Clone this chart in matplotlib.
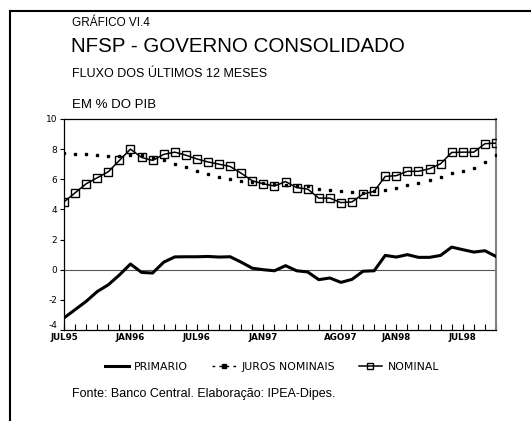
import matplotlib
matplotlib.use("Agg")
import matplotlib.pyplot as plt
from matplotlib.lines import Line2D
import numpy as np

# Monthly data JUL95 .. OCT98 (40 months), % do PIB
primario = [-3.2, -2.65, -2.1, -1.45, -1.0, -0.35, 0.38, -0.18, -0.22, 0.5,
            0.85, 0.86, 0.86, 0.88, 0.84, 0.86, 0.5, 0.1, 0.0, -0.07,
            0.27, -0.07, -0.15, -0.66, -0.55, -0.84, -0.64, -0.1, -0.07, 0.95,
            0.84, 1.0, 0.82, 0.82, 0.95, 1.5, 1.33, 1.17, 1.26, 0.88]
juros = [7.74, 7.7, 7.67, 7.59, 7.52, 7.56, 7.6, 7.63, 7.41, 7.25,
         7.01, 6.81, 6.52, 6.37, 6.15, 6.02, 5.86, 5.8, 5.74, 5.68,
         5.64, 5.57, 5.53, 5.35, 5.31, 5.24, 5.15, 5.1, 5.2, 5.31,
         5.42, 5.64, 5.75, 5.97, 6.13, 6.42, 6.53, 6.75, 7.14, 7.63]
nominal = [4.5, 5.1, 5.7, 6.1, 6.5, 7.25, 8.0, 7.45, 7.25, 7.65,
           7.8, 7.6, 7.35, 7.15, 7.0, 6.85, 6.4, 5.9, 5.7, 5.55,
           5.85, 5.45, 5.35, 4.75, 4.75, 4.45, 4.5, 5.02, 5.2, 6.19,
           6.24, 6.53, 6.53, 6.7, 7.03, 7.78, 7.8, 7.8, 8.36, 8.4]
tick_pos = [0, 6, 12, 18, 25, 30, 36]
tick_labels = ["JUL95", "JAN96", "JUL96", "JAN97", "AGO97", "JAN98", "JUL98"]
y_ticks = [-4, -2, 0, 2, 4, 6, 8, 10]

W, H = 531, 421
fig = plt.figure(figsize=(W / 100, H / 100), dpi=100)
ax = fig.add_axes([64 / W, 1 - 330 / H, (496 - 64) / W, (330 - 119) / H])

x = np.arange(len(nominal))
ax.axhline(0, color="#555555", lw=0.8, zorder=1)
ax.plot(x, primario, color="black", lw=2.2, solid_joinstyle="round", zorder=3)
ax.plot(x, juros, linestyle="none", marker="s", ms=2.0, color="black", zorder=3)
ax.plot(x, nominal, color="black", lw=1.1, marker="s", ms=5.2, mfc="none",
        mec="black", mew=1.0, zorder=4)

ax.set_xlim(0, len(nominal) - 1)
ax.set_ylim(-4, 10)
ax.set_yticks(y_ticks)
ax.set_yticklabels([str(v) if v != -4 else "" for v in y_ticks])
ax.set_xticks(tick_pos)
ax.set_xticklabels(tick_labels)
ax.set_xticks(x, minor=True)
ax.tick_params(axis="x", which="both", direction="in", length=4, width=0.8,
               labelsize=6.3, pad=2)
ax.tick_params(axis="y", direction="out", length=3, width=0.8, labelsize=6.5, pad=2)
for lab in ax.get_xticklabels():
    lab.set_fontfamily("DejaVu Sans")
    lab.set_fontweight("bold")
for lab in ax.get_yticklabels():
    lab.set_fontfamily("DejaVu Sans")
for s in ["left", "top", "bottom"]:
    ax.spines[s].set_color("black")
    ax.spines[s].set_linewidth(0.9)
ax.spines["right"].set_color("#808080")
ax.spines["right"].set_linewidth(1.5)
fig.text(49 / W, 1 - 326 / H, "-4", fontsize=6.5, family="DejaVu Sans",
         ha="left", va="center")

# page frame
fig.add_artist(Line2D([10 / W, 10 / W], [0, 1 - 11 / H], color="black", lw=1.5,
                      transform=fig.transFigure))
fig.add_artist(Line2D([10 / W, 1], [1 - 11 / H, 1 - 11 / H], color="black", lw=1.5,
                      transform=fig.transFigure))

tf = "Liberation Sans"
fig.text(72 / W, 1 - 26 / H, "GRÁFICO VI.4", fontsize=8.5, family=tf, va="baseline")
fig.text(71 / W, 1 - 52 / H, "NFSP - GOVERNO CONSOLIDADO", fontsize=14.8, family=tf,
         va="baseline")
fig.text(72 / W, 1 - 77 / H, "FLUXO DOS ÚLTIMOS 12 MESES", fontsize=9, family=tf,
         va="baseline")
fig.text(72 / W, 1 - 108 / H, "EM % DO PIB", fontsize=9.5, family=tf, va="baseline")
fig.text(72 / W, 1 - 397 / H, "Fonte: Banco Central. Elaboração: IPEA-Dipes.",
         fontsize=9, family=tf, va="baseline")

handles = [
    Line2D([0, 1], [0, 0], color="black", lw=2.2),
    Line2D([0, 0.5, 1], [0, 0, 0], color="black", lw=1, linestyle=(0, (2, 3)),
           marker="s", ms=2.3, markevery=[1]),
    Line2D([0, 0.5, 1], [0, 0, 0], color="black", lw=1.1, marker="s", ms=5,
           mfc="none", mew=1.0, markevery=[1]),
]
leg = fig.legend(handles, ["PRIMARIO", "JUROS NOMINAIS", "NOMINAL"],
                 loc="center", bbox_to_anchor=(272 / W, 1 - 367 / H), ncol=3,
                 frameon=False, prop={"family": "DejaVu Sans", "size": 7.8},
                 handlelength=2.2, handletextpad=0.5, columnspacing=2.2)

fig.savefig("out.png", dpi=100)
